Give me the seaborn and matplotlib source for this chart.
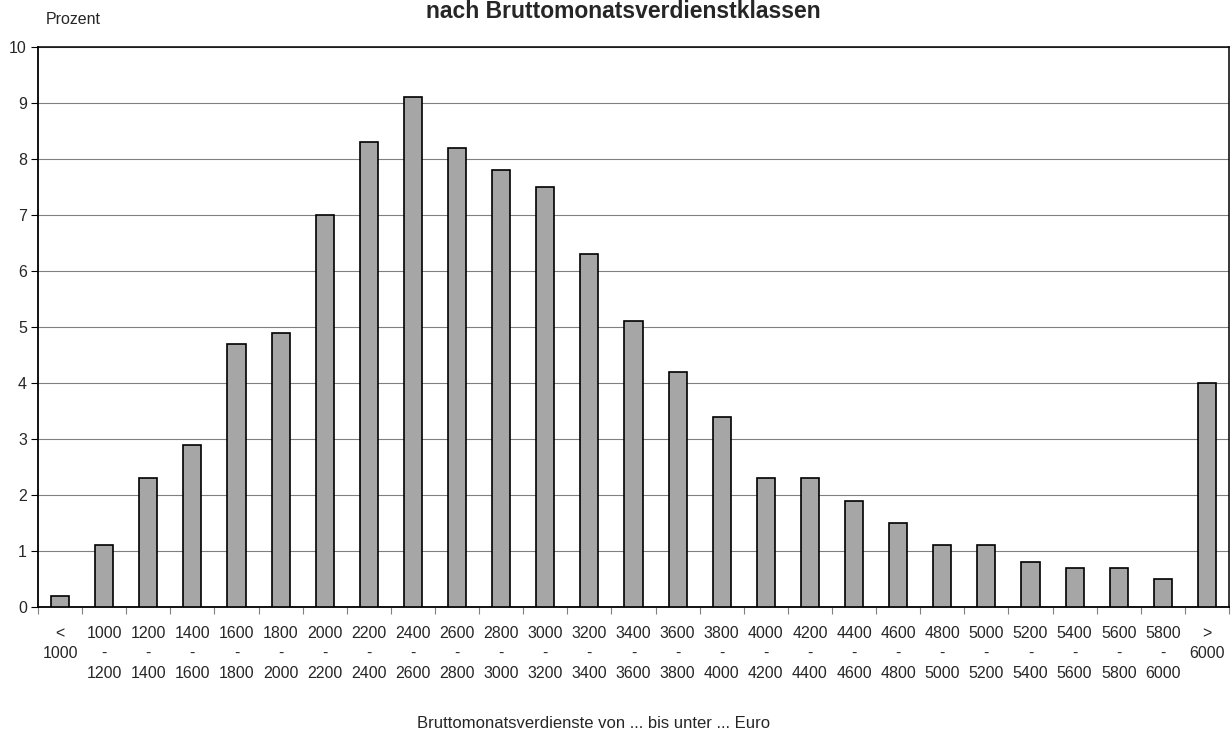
import numpy as np
import pandas as pd
import matplotlib
matplotlib.use('Agg')
import matplotlib.pyplot as plt
import seaborn as sns

# Einkommensklassen (Euro) und Anteil in Prozent
klassen = ['< 1000', '1000-1200', '1200-1400', '1400-1600', '1600-1800', '1800-2000',
           '2000-2200', '2200-2400', '2400-2600', '2600-2800', '2800-3000', '3000-3200',
           '3200-3400', '3400-3600', '3600-3800', '3800-4000', '4000-4200', '4200-4400',
           '4400-4600', '4600-4800', '4800-5000', '5000-5200', '5200-5400', '5400-5600',
           '5600-5800', '5800-6000', '> 6000']
prozent = [0.2, 1.1, 2.3, 2.9, 4.7, 4.9, 7.0, 8.3, 9.1, 8.2, 7.8, 7.5, 6.3, 5.1,
           4.2, 3.4, 2.3, 2.3, 1.9, 1.5, 1.1, 1.1, 0.8, 0.7, 0.7, 0.5, 4.0]

def tick_text(k):
    if k.startswith('<') or k.startswith('>'):
        return k[0] + '\n' + k[2:]
    a, b = k.split('-')
    return f'{a}\n-\n{b}'

df = pd.DataFrame({'Klasse': klassen, 'Prozent': prozent})

sns.set_style('white')
plt.rcParams['font.family'] = ['Liberation Sans', 'DejaVu Sans']

fig = plt.figure(figsize=(12.32, 7.33), dpi=100)
# Plotfläche: x 38..1229 px, y 47..607 px
ax = fig.add_axes([38 / 1232, 1 - 607 / 733, (1229 - 38) / 1232, (607 - 47) / 733])

sns.barplot(data=df, x='Klasse', y='Prozent', color='#a6a6a6', edgecolor='black',
            linewidth=1.2, width=0.41, saturation=1, ax=ax, zorder=3)

ax.set_ylim(0, 10)
ax.set_xlim(-0.5, len(klassen) - 0.5)
ax.set_yticks(range(0, 11))
ax.yaxis.grid(True, color='#808080', linewidth=0.8, zorder=0)
ax.set_axisbelow(True)

ax.set_xticks(range(len(klassen)))
ax.set_xticklabels([tick_text(k) for k in klassen], fontsize=11.5, linespacing=1.4)
ax.set_xticks(np.arange(-0.5, len(klassen), 1), minor=True)
ax.tick_params(axis='x', which='major', length=0, pad=14)
ax.tick_params(axis='x', which='minor', length=5, width=0.8, color='#808080', direction='out')
ax.tick_params(axis='y', length=5, width=0.8, color='black', direction='out', labelsize=11.5, pad=3)
ax.xaxis.set_ticks_position('bottom')
ax.yaxis.set_ticks_position('left')

for s in ['left', 'bottom']:
    ax.spines[s].set_color('black')
    ax.spines[s].set_linewidth(1.3)
for s in ['top', 'right']:
    ax.spines[s].set_color('black')
    ax.spines[s].set_linewidth(1.1)

ax.set_xlabel('')
ax.set_ylabel('')

fig.text(623 / 1232, 1 - 11 / 733, 'nach Bruttomonatsverdienstklassen', ha='center', va='center',
         fontsize=16.5, fontweight='bold')
fig.text(46 / 1232, 1 - 19 / 733, 'Prozent', ha='left', va='center', fontsize=11.5)
fig.text(594 / 1232, 1 - 724 / 733, 'Bruttomonatsverdienste von ... bis unter ... Euro', ha='center',
         va='center', fontsize=12)

fig.savefig('out.png', dpi=100)
